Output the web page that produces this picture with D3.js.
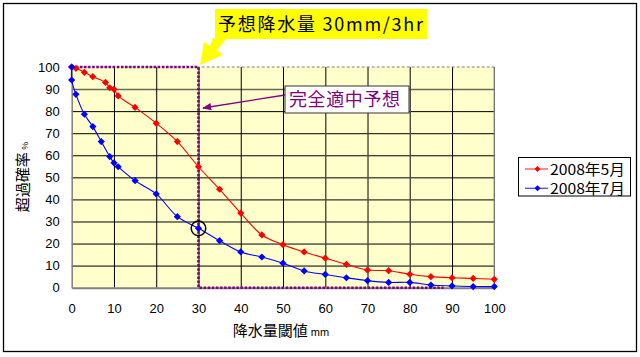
<!DOCTYPE html>
<html><head><meta charset="utf-8">
<script src="https://cdn.jsdelivr.net/npm/d3@7"></script>
<style>
html,body{margin:0;padding:0;background:#fff;}
svg{display:block;}
</style></head>
<body>
<svg id="chart" width="640" height="357"></svg>
<script>
// ---- data ----
const xTicks = [0,10,20,30,40,50,60,70,80,90,100];
const yTicks = [0,10,20,30,40,50,60,70,80,90,100];
const mayX = [0,1,3,5,8,9,10,11,15,20,25,30,35,40,45,50,55,60,65,70,75,80,85,90,95,100];
const mayY = [100,99.4,97.6,95.6,93.0,90.6,89.9,86.9,81.7,74.5,66.2,54.8,44.6,33.8,23.9,19.5,16.2,13.4,10.6,8.0,7.7,6.1,5.0,4.5,4.2,3.8];
const julX = [0,0,1,3,5,7,9,10,11,15,20,25,30,35,40,45,50,55,60,65,70,75,80,85,90,95,100];
const julY = [100,94.1,87.6,78.6,73.0,66.2,59.4,56.6,54.8,48.5,42.5,32.2,26.9,21.3,16.2,13.9,11.1,7.6,6.0,4.5,3.2,2.4,2.4,1.2,0.8,0.5,0.5];
const seriesNames = ["2008年5月","2008年7月"];
const idealX = [0,30,30,88];
const idealY = [100,100,0,0];
const forecastX = 30;
const forecastHitY = 26.9;
const titleText = "予想降水量 30mm/3hr";
const calloutText = "完全適中予想";
const xTitle = "降水量閾値";
const xUnit = "mm";
const yTitle = "超過確率";
const yUnit = "%";

// ---- layout ----
const svg = d3.select("#chart");
const L = 71.7, R = 494.3, T = 67, B = 287.7;
const x = d3.scaleLinear().domain([0,100]).range([L,R]);
const y = d3.scaleLinear().domain([0,100]).range([B,T]);
const colors = ["#ff0000","#0000ff"];
const jp = "'Noto Sans CJK JP','Noto Sans',sans-serif";
const num = "'Liberation Sans',Arial,sans-serif";

// outer border
svg.append("rect").attr("x",3.5).attr("y",3.5).attr("width",633).attr("height",348)
  .attr("fill","#fff").attr("stroke","#000").attr("stroke-width",1.3);

// plot background
svg.append("rect").attr("x",L).attr("y",T).attr("width",R-L).attr("height",B-T).attr("fill","#ffffcc");

// grid
const grid = svg.append("g");
grid.append("g").attr("transform",`translate(${L},0)`)
  .call(d3.axisLeft(y).tickValues(yTicks.filter(d=>d>0&&d<100)).tickSize(-(R-L)).tickFormat(""))
  .call(g=>g.select(".domain").remove())
  .call(g=>g.selectAll("line").attr("stroke",d=>(d===90||d===10)?"#6a6a5a":"#000").attr("stroke-width",d=>(d===90||d===10)?1.6:1));
grid.append("g").attr("transform",`translate(0,${B})`)
  .call(d3.axisBottom(x).tickValues(xTicks.filter(d=>d>0&&d<100)).tickSize(-(B-T)).tickFormat(""))
  .call(g=>g.select(".domain").remove())
  .call(g=>g.selectAll("line").attr("stroke",d=>(d>=60&&d<=80)?"#4a4a3a":"#000").attr("stroke-width",d=>(d>=60&&d<=80)?1.4:1));

// plot border: dashed top, solid right
svg.append("line").attr("x1",L).attr("x2",R).attr("y1",T).attr("y2",T)
  .attr("stroke","#808080").attr("stroke-width",1).attr("stroke-dasharray","3,2");
svg.append("line").attr("x1",R).attr("x2",R).attr("y1",T).attr("y2",B)
  .attr("stroke","#707070").attr("stroke-width",1.3);

// axes
const yAxis = svg.append("g").attr("transform",`translate(${L},0)`)
  .call(d3.axisLeft(y).tickValues(yTicks).tickSize(0).tickPadding(12));
yAxis.select(".domain").attr("stroke","#808080").attr("stroke-width",1.5);
yAxis.selectAll("text").attr("font-family",num).attr("font-size",13).attr("fill","#000");
const xAxis = svg.append("g").attr("transform",`translate(0,${B})`)
  .call(d3.axisBottom(x).tickValues(xTicks).tickSize(0).tickPadding(16));
xAxis.select(".domain").attr("stroke","#808080").attr("stroke-width",2);
xAxis.selectAll("text").attr("font-family",num).attr("font-size",13).attr("fill","#000");

// ideal forecast dotted path
const idealPts = idealX.map((d,i)=>[d,idealY[i]]);
svg.append("path").attr("d",d3.line().x(d=>x(d[0])).y(d=>y(d[1]))(idealPts))
  .attr("fill","none").attr("stroke","#800080").attr("stroke-width",2.6).attr("stroke-dasharray","2.5,1.6");

// series
const series = [
  {name:seriesNames[0], pts: mayX.map((d,i)=>[d,mayY[i]]), color:colors[0]},
  {name:seriesNames[1], pts: julX.map((d,i)=>[d,julY[i]]), color:colors[1]}
];
const line = d3.line().x(d=>x(d[0])).y(d=>y(d[1])).curve(d3.curveCatmullRom.alpha(0.5));
const diamond = (cx,cy,r)=>`M${cx},${cy-r}L${cx+r},${cy}L${cx},${cy+r}L${cx-r},${cy}Z`;
series.forEach(s=>{
  svg.append("path").attr("d",line(s.pts)).attr("fill","none").attr("stroke",s.color).attr("stroke-width",1.1);
  svg.append("g").selectAll("path").data(s.pts).join("path")
    .attr("d",d=>diamond(x(d[0]),y(d[1]),3.6)).attr("fill",s.color);
});

// circle at hit point
svg.append("circle").attr("cx",x(forecastX)).attr("cy",y(forecastHitY)).attr("r",7.3)
  .attr("fill","none").attr("stroke","#000").attr("stroke-width",1.5);

// yellow title callout
svg.append("path").attr("d","M213,38 L227,38 L217,50 L223,55 L200,65 L204,42 L210,46 Z").attr("fill","#ffff00");
svg.append("rect").attr("x",215).attr("y",9).attr("width",212).attr("height",30).attr("fill","#ffff00");
svg.append("text").attr("x",218).attr("y",31).attr("font-family",jp).attr("font-size",18)
  .attr("fill","#000").attr("textLength",205).attr("lengthAdjust","spacing").text(titleText);

// purple callout
svg.append("defs").append("marker").attr("id","ah").attr("viewBox","0 0 10 10").attr("refX",9).attr("refY",5)
  .attr("markerWidth",7).attr("markerHeight",7).attr("orient","auto-start-reverse")
  .append("path").attr("d","M0,1 L10,5 L0,9 Z").attr("fill","#800080");
svg.append("line").attr("x1",285).attr("y1",95).attr("x2",203).attr("y2",108)
  .attr("stroke","#800080").attr("stroke-width",1.3).attr("marker-end","url(#ah)");
svg.append("rect").attr("x",285).attr("y",86).attr("width",124).attr("height",27)
  .attr("fill","#fff").attr("stroke","#333").attr("stroke-width",1);
svg.append("text").attr("x",289).attr("y",106).attr("font-family",jp).attr("font-size",18)
  .attr("fill","#800080").attr("textLength",111).attr("lengthAdjust","spacing").text(calloutText);

// axis titles
const xt = svg.append("text").attr("x",281).attr("y",336).attr("text-anchor","middle").attr("font-family",jp).attr("fill","#000");
xt.append("tspan").attr("font-size",15).text(xTitle);
xt.append("tspan").attr("font-size",11).attr("font-family",num).text(" "+xUnit);
const yt = svg.append("text").attr("transform","translate(28,177) rotate(-90)").attr("text-anchor","middle").attr("font-family",jp).attr("fill","#000");
yt.append("tspan").attr("font-size",15).text(yTitle);
yt.append("tspan").attr("font-size",9).attr("font-family",num).text(" "+yUnit);

// legend
const lg = svg.append("g");
lg.append("rect").attr("x",518.5).attr("y",157.5).attr("width",112).attr("height",38.5)
  .attr("fill","#fff").attr("stroke","#000").attr("stroke-width",1);
series.forEach((s,i)=>{
  const cy = 169 + i*19.3;
  lg.append("line").attr("x1",525).attr("x2",548).attr("y1",cy).attr("y2",cy).attr("stroke",s.color).attr("stroke-width",1.3).attr("opacity",0.7);
  lg.append("path").attr("d",diamond(537.5,cy,3)).attr("fill",s.color);
  lg.append("text").attr("x",550).attr("y",cy+5.5).attr("font-family",jp).attr("font-size",14.5)
    .attr("fill","#000").attr("textLength",75).attr("lengthAdjust","spacingAndGlyphs").text(s.name);
});
</script>
</body></html>
